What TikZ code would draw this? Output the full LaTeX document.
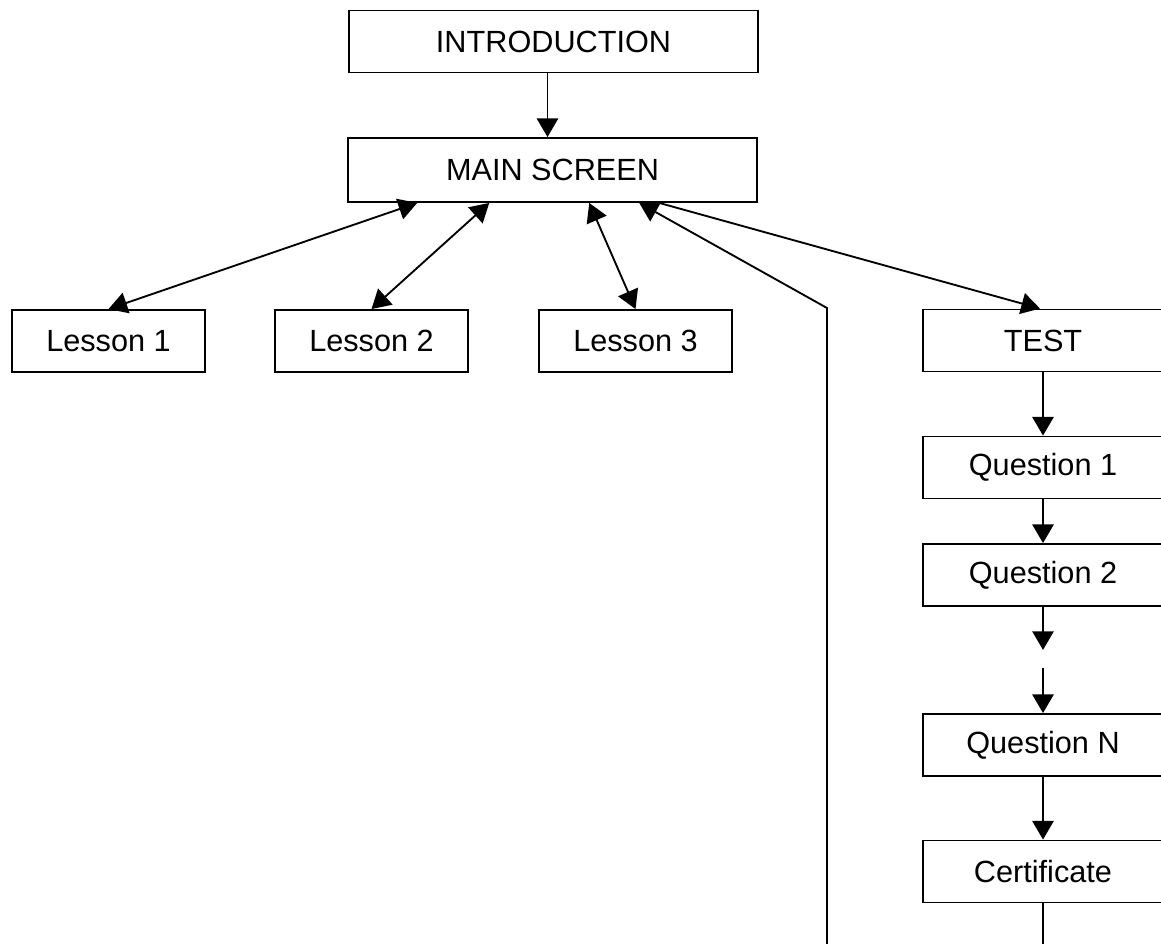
\documentclass[tikz,border=0pt]{standalone}
\usepackage{fontspec}
\setmainfont{Liberation Sans}
\usetikzlibrary{arrows.meta,calc}

\begin{document}
\begin{tikzpicture}[x=0.75pt,y=0.75pt,yscale=-1,xscale=1,
	box/.style={draw,line width=1.4pt,inner sep=0pt,minimum height=46.5pt,font=\fontsize{23}{27}\selectfont},
	lessonbox/.style={box,minimum width=144.5pt},
	testbox/.style={box,minimum width=180pt},
	link/.style={line width=1.4pt},
	arr/.style={link,-{Triangle[length=14pt,width=16pt]}},
	dbl/.style={link,{Triangle[length=14pt,width=16pt]}-{Triangle[length=14pt,width=16pt]}}]
	\useasboundingbox (0,0) rectangle (1161,944);

	%Shape: Rectangle [top]
	\node [box,minimum width=306.5pt] (intro) at (553.5,41.5) {INTRODUCTION};
	\node [box,minimum width=306.5pt,minimum height=48pt] (main) at (552.5,170) {MAIN SCREEN};

	%Shape: Rectangle [lessons]
	\node [lessonbox] (les1) at (108.5,341) {Lesson 1};
	\node [lessonbox] (les2) at (371.5,341) {Lesson 2};
	\node [lessonbox] (les3) at (635.5,341) {Lesson 3};

	%Shape: Rectangle [test column]
	\node [testbox] (test) at (1043,340.5) {TEST};
	\node [testbox] (q1) at (1043,467.5) {Question 1};
	\node [testbox] (q2) at (1043,575) {Question 2};
	\node [testbox] (qn) at (1043,745) {Question N};
	\node [testbox] (cert) at (1043,871.5) {Certificate};

	%Straight Lines
	\draw [arr] ([xshift=-4.5pt]intro.south) -- ([xshift=-4.5pt]intro.south |- main.north);
	\draw [dbl] (les1.north) -- ($(main.south west)+(70,0)$);
	\draw [dbl] (les2.north) -- ($(main.south west)+(142,0)$);
	\draw [dbl] (les3.north) -- ($(main.south west)+(242,0)$);
	\draw [arr] ($(main.south west)+(312,0)$) -- ([xshift=-2.25pt]test.north);

	%Straight Lines [questions]
	\draw [arr] (test.south) -- (q1.north);
	\draw [arr] (q1.south) -- (q2.north);
	\draw [arr] (q2.south) -- ($(q2.south)+(0,43)$);
	\draw [arr] ($(qn.north)+(0,-45)$) -- (qn.north);
	\draw [arr] (qn.south) -- (cert.north);

	%Straight Lines [return]
	\coordinate (bot) at (1043,944);
	\coordinate (ret) at (827,944);
	\coordinate (bend) at (827,308);
	\draw [link] (cert.south) -- (bot);
	\draw [arr] (ret) -- (bend) -- ($(main.south west)+(292,0)$);

\end{tikzpicture}
\end{document}
